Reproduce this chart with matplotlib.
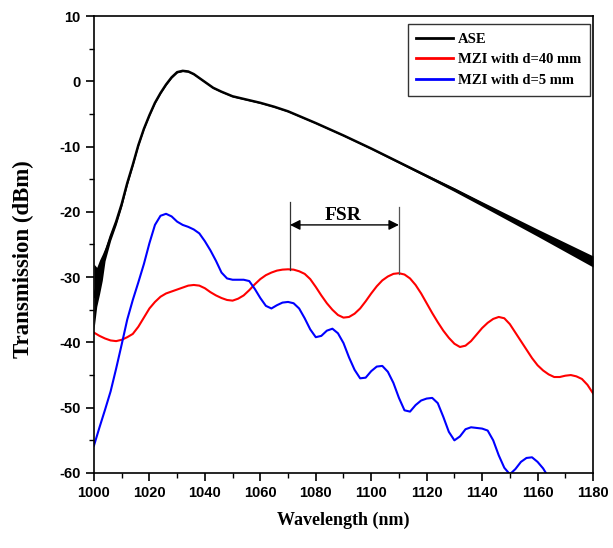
import numpy as np
import matplotlib.pyplot as plt
import matplotlib as mt

#%% spectra (wavelength in nm, transmission in dBm)
ase_wl = [1000, 1001, 1002, 1003, 1004, 1006, 1008, 1010, 1012, 1014, 1016, 1018,
          1020, 1022, 1024, 1026, 1028, 1030, 1032, 1034, 1036, 1038, 1040, 1043,
          1046, 1050, 1055, 1060, 1065, 1070, 1080, 1090, 1100, 1110, 1120, 1130,
          1140, 1150, 1160, 1170, 1180]
ase_db = [-33.0, -31.5, -30.0, -28.5, -26.5, -23.8, -21.5, -18.8, -15.6, -12.8, -9.8, -7.3,
          -5.2, -3.3, -1.8, -0.5, 0.6, 1.4, 1.6, 1.5, 1.1, 0.5, -0.1, -1.0,
          -1.6, -2.3, -2.8, -3.3, -3.9, -4.6, -6.4, -8.3, -10.3, -12.4, -14.5, -16.6,
          -18.8, -21.0, -23.2, -25.4, -27.6]
# half width of the noise envelope on the ASE trace
ase_noise = [5.0, 3.0, 2.6, 2.0, 1.0, 0.6, 0.5, 0.4, 0.3, 0.2, 0.15, 0.1,
             0.1, 0.1, 0.1, 0.1, 0.1, 0.1, 0.1, 0.1, 0.1, 0.1, 0.1, 0.1,
             0.1, 0.1, 0.1, 0.1, 0.1, 0.1, 0.1, 0.1, 0.12, 0.15, 0.2, 0.28,
             0.35, 0.45, 0.55, 0.7, 0.85]

mzi40_wl = list(range(1000, 1181, 2))
mzi40_db = [-38.5, -39.0, -39.4, -39.7, -39.8, -39.6, -39.2, -38.7, -37.6, -36.2,
            -34.8, -33.8, -33.0, -32.5, -32.2, -31.9, -31.6, -31.3, -31.2, -31.3,
            -31.7, -32.3, -32.8, -33.2, -33.5, -33.6, -33.3, -32.8, -32.0, -31.1,
            -30.3, -29.7, -29.3, -29.0, -28.85, -28.8, -28.85, -29.1, -29.5, -30.3,
            -31.5, -32.8, -34.0, -35.0, -35.8, -36.2, -36.1, -35.6, -34.8, -33.7,
            -32.5, -31.4, -30.5, -29.9, -29.5, -29.4, -29.6, -30.2, -31.2, -32.5,
            -34.0, -35.5, -36.9, -38.2, -39.3, -40.2, -40.7, -40.5, -39.8, -38.8,
            -37.8, -37.0, -36.4, -36.1, -36.3, -37.2, -38.5, -39.8, -41.1, -42.4,
            -43.5, -44.3, -44.9, -45.3, -45.3, -45.1, -45.0, -45.2, -45.6, -46.5,
            -47.8]

mzi5_wl = list(range(1000, 1163, 2)) + [1163]
mzi5_db = [-55.8, -53.0, -50.3, -47.5, -44.0, -40.3, -36.5, -33.5, -30.8, -28.0,
           -24.8, -22.0, -20.6, -20.3, -20.7, -21.5, -22.0, -22.3, -22.7, -23.3,
           -24.5, -25.9, -27.5, -29.3, -30.2, -30.4, -30.4, -30.4, -30.6, -31.8,
           -33.2, -34.4, -34.8, -34.3, -33.9, -33.8, -34.0, -34.8, -36.3, -38.0,
           -39.2, -39.0, -38.2, -37.9, -38.6, -40.1, -42.3, -44.2, -45.5, -45.4,
           -44.4, -43.7, -43.6, -44.5, -46.2, -48.5, -50.4, -50.6, -49.6, -48.9,
           -48.6, -48.5, -49.3, -51.4, -53.7, -55.0, -54.4, -53.3, -53.0, -53.1,
           -53.2, -53.5, -55.0, -57.3, -59.2, -60.2, -59.4, -58.3, -57.7, -57.6,
           -58.3, -59.3, -60.0]

fsr_peaks = [1070.7, 1110.0]

#%%
mt.rcParams['font.family'] = 'Liberation Sans'
mt.rcParams['font.weight'] = 'bold'
mt.rcParams['axes.unicode_minus'] = False
fig = plt.figure(figsize=(6.13, 5.48), dpi=100)
ax = fig.add_axes([0.1533, 0.1369, 0.8141, 0.8339])

for s in ['left', 'right', 'bottom', 'top']:
    ax.spines[s].set_color('k')
    ax.spines[s].set_linewidth(1.2)

ase_lo = np.array(ase_db) - np.array(ase_noise)
ase_hi = np.array(ase_db) + np.array(ase_noise)
ax.fill_between(ase_wl, ase_lo, ase_hi, color='k', lw=0)
ax.plot(ase_wl, ase_db, color='k', lw=1.8, label='ASE')
ax.plot(mzi40_wl, mzi40_db, color='#ff0000', lw=1.5, label='MZI with d=40 mm')
ax.plot(mzi5_wl, mzi5_db, color='#0000ff', lw=1.5, label='MZI with d=5 mm')

# free spectral range marker between neighbouring red peaks
ax.plot([fsr_peaks[0]] * 2, [-18.5, -28.9], color='#333333', lw=0.9)
ax.plot([fsr_peaks[1]] * 2, [-19.3, -29.5], color='#555555', lw=0.9)
ax.annotate('', xy=(fsr_peaks[0], -22.0), xytext=(fsr_peaks[1], -22.0),
            arrowprops=dict(arrowstyle='<|-|>', color='k', lw=1.0,
                            mutation_scale=15, shrinkA=0, shrinkB=0))
ax.text(sum(fsr_peaks) / 2 - 0.5, -21.2, 'FSR', ha='center', va='baseline',
        family='Liberation Serif', weight='bold', fontsize=14)

ax.set_xlim(1000, 1180)
ax.set_ylim(-60, 10)
ax.set_xticks(np.arange(1000, 1181, 20))
ax.set_xticks(np.arange(1000, 1181, 10), minor=True)
ax.set_yticks(np.arange(-60, 11, 10))
ax.set_yticks(np.arange(-60, 11, 5), minor=True)
ax.tick_params(which='major', direction='out', length=6, width=1.2,
               labelsize=10.5, top=False, right=False)
ax.tick_params(which='minor', direction='out', length=3.5, width=1.0,
               top=False, right=False)
for t in ax.get_xticklabels() + ax.get_yticklabels():
    t.set_fontweight('bold')

ax.set_xlabel('Wavelength (nm)', family='Liberation Serif', weight='bold',
              fontsize=13, labelpad=8)
ax.set_ylabel('Transmission (dBm)', family='Liberation Serif', weight='bold',
              fontsize=16.5)
ax.yaxis.set_label_coords(-0.12, 0.468)

leg = ax.legend(loc='upper right', bbox_to_anchor=(0.994, 0.9825),
                prop={'family': 'Liberation Serif', 'weight': 'bold', 'size': 10.5},
                frameon=True, fancybox=False, handlelength=2.5, handletextpad=0.35,
                labelspacing=0.5, borderpad=0.6, borderaxespad=0.0)
leg.get_frame().set_edgecolor('k')
leg.get_frame().set_linewidth(1.0)
for line in leg.get_lines():
    line.set_linewidth(2.0)

fig.savefig('out.png', dpi=100)
